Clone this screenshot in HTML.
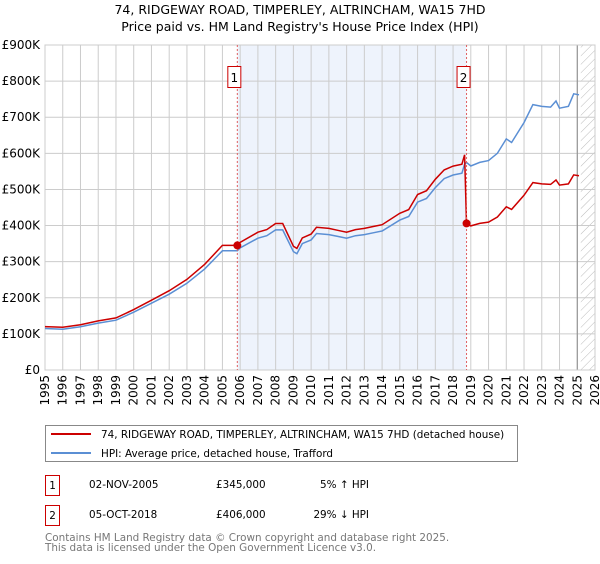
<!DOCTYPE html>
<html><head><meta charset="utf-8"><style>
body{margin:0;background:#fff;font-family:"DejaVu Sans","Liberation Sans",sans-serif;}
svg text{font-family:"DejaVu Sans","Liberation Sans",sans-serif;}
</style></head><body>
<svg id="c" width="600" height="560" viewBox="0 0 600 560">
<defs><pattern id="hatch" width="6" height="6" patternUnits="userSpaceOnUse" patternTransform="rotate(45)"><line x1="0" y1="0" x2="0" y2="6" stroke="#bbb" stroke-width="1"/></pattern></defs>
<text x="300" y="14" text-anchor="middle" font-size="12.5">74, RIDGEWAY ROAD, TIMPERLEY, ALTRINCHAM, WA15 7HD</text>
<text x="300" y="31" text-anchor="middle" font-size="12.5">Price paid vs. HM Land Registry's House Price Index (HPI)</text>
<g id="plot"></g>
<g>
<rect x="45.5" y="425.5" width="472" height="36" fill="#fff" stroke="#888"/>
<line x1="51" y1="434" x2="91" y2="434" stroke="#cc0000" stroke-width="2"/>
<text x="101" y="438" font-size="10.4">74, RIDGEWAY ROAD, TIMPERLEY, ALTRINCHAM, WA15 7HD (detached house)</text>
<line x1="51" y1="453" x2="91" y2="453" stroke="#5b8fd4" stroke-width="2"/>
<text x="101" y="457" font-size="10.4">HPI: Average price, detached house, Trafford</text>
</g>
<g font-size="10.4">
<rect x="45.5" y="475.5" width="14" height="20" fill="#fff" stroke="#cc0000"/><text x="52.5" y="489" text-anchor="middle">1</text>
<text x="89" y="488">02-NOV-2005</text><text x="216" y="488">£345,000</text><text x="369" y="488" text-anchor="end">5% ↑ HPI</text>
<rect x="45.5" y="505.5" width="14" height="20" fill="#fff" stroke="#cc0000"/><text x="52.5" y="519" text-anchor="middle">2</text>
<text x="89" y="518">05-OCT-2018</text><text x="216" y="518">£406,000</text><text x="369" y="518" text-anchor="end">29% ↓ HPI</text>
</g>
<text x="45" y="541" font-size="10.4" fill="#777">Contains HM Land Registry data © Crown copyright and database right 2025.</text>
<text x="45" y="551" font-size="10.4" fill="#777">This data is licensed under the Open Government Licence v3.0.</text>
</svg>
<script>
const hpiYears=[1995,1996,1997,1998,1999,2000,2001,2002,2003,2004,2005,2005.5,2005.84,2006,2007,2007.5,2008,2008.4,2009,2009.2,2009.5,2010,2010.3,2011,2011.5,2012,2012.5,2013,2013.5,2014,2015,2015.5,2016,2016.5,2017,2017.5,2018,2018.5,2018.65,2018.76,2019,2019.5,2020,2020.5,2021,2021.3,2022,2022.5,2023,2023.5,2023.8,2024,2024.5,2024.8,2025.1];
const hpiValues=[115,113,120,130,138,160,185,210,240,280,330,330,330,338,365,372,388,388,328,322,350,360,378,375,370,365,372,375,380,385,415,425,465,475,505,530,540,545,570,575,565,575,580,600,640,630,685,735,730,728,745,725,730,765,762];
const saleYears=[2005.84,2018.76];
const salePrices=[345,406];
const saleLabels=["1","2"];
const yTicks=[0,100,200,300,400,500,600,700,800,900];
const yTickLabels=["£0","£100K","£200K","£300K","£400K","£500K","£600K","£700K","£800K","£900K"];
const xTicks=[];for(let y=1995;y<=2026;y++)xTicks.push(y);
const X0=45,X1=595,Y0=370,Y1=45;
const xs=y=>X0+(y-1995)/(2026-1995)*(X1-X0);
const ys=v=>Y0-v/900*(Y0-Y1);
const NS="http://www.w3.org/2000/svg";
const g=document.getElementById('plot');
function el(t,a){const e=document.createElementNS(NS,t);for(const k in a)e.setAttribute(k,a[k]);g.appendChild(e);return e;}
function hpiAt(y){for(let i=1;i<hpiYears.length;i++){if(hpiYears[i]>=y){const t=(y-hpiYears[i-1])/(hpiYears[i]-hpiYears[i-1]);return hpiValues[i-1]+t*(hpiValues[i]-hpiValues[i-1]);}}return hpiValues[hpiValues.length-1];}
let r=el('rect',{x:xs(saleYears[0]),y:Y1,width:xs(saleYears[1])-xs(saleYears[0]),height:Y0-Y1,fill:'#eef3fc'});

r=el('rect',{x:xs(2025.2),y:Y1,width:X1-xs(2025.2),height:Y0-Y1,fill:'url(#hatch)'});

xTicks.forEach(t=>{const l=el('line',{x1:xs(t),x2:xs(t),y1:Y1,y2:Y0,stroke:'#ccc'});
const tx=el('text',{x:0,y:0,'font-size':12,'text-anchor':'end',transform:`translate(${xs(t)+4},${Y0+5}) rotate(-90)`});tx.textContent=t;});
yTicks.forEach((t,i)=>{const l=el('line',{x1:X0,x2:X1,y1:ys(t),y2:ys(t),stroke:'#ccc'});
const tx=el('text',{x:X0-5,y:ys(t)+4,'font-size':12,'text-anchor':'end'});tx.textContent=yTickLabels[i];});
let b=el('line',{x1:xs(2025),x2:xs(2025),y1:Y1,y2:Y0,stroke:'#888'});
b=el('rect',{x:X0,y:Y1,width:X1-X0,height:Y0-Y1,fill:'none',stroke:'#ccc'});
let d=hpiYears.map((y,i)=>(i?'L':'M')+xs(y).toFixed(1)+','+ys(hpiValues[i]).toFixed(1)).join('');
let p=el('path',{d:d,fill:'none',stroke:'#5b8fd4','stroke-width':1.5});
const r1=salePrices[0]/hpiAt(saleYears[0]),r2=salePrices[1]/hpiAt(saleYears[1]);
let pts=[];hpiYears.forEach((y,i)=>{if(y<saleYears[1])pts.push([y,hpiValues[i]*r1]);});
pts.push([saleYears[1],salePrices[1]]);
hpiYears.forEach((y,i)=>{if(y>saleYears[1])pts.push([y,hpiValues[i]*r2]);});
d=pts.map((q,i)=>(i?'L':'M')+xs(q[0]).toFixed(1)+','+ys(q[1]).toFixed(1)).join('');
p=el('path',{d:d,fill:'none',stroke:'#cc0000','stroke-width':1.5});
saleYears.forEach((y,i)=>{
const l=el('line',{x1:xs(y),x2:xs(y),y1:Y1,y2:Y0,stroke:'#e06060','stroke-dasharray':'2,2'});
const c=el('circle',{cx:xs(y),cy:ys(salePrices[i]),r:4,fill:'#cc0000'});
const bx=el('rect',{x:xs(y)-9.5,y:66.5,width:13,height:21,fill:'#fff',stroke:'#cc0000'});
const t=el('text',{x:xs(y)-3,y:82,'font-size':12,'text-anchor':'middle'});t.textContent=saleLabels[i];
});
</script>
</body></html>
